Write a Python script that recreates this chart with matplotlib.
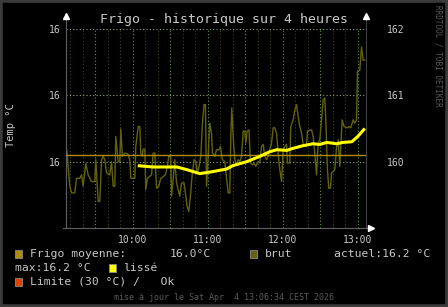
#!/usr/bin/env python3
"""Frigo temperature history, rrdtool look."""
import matplotlib
matplotlib.use("Agg")
import matplotlib.pyplot as plt
from matplotlib.patches import Rectangle

# raw samples: minutes after 09:00, temperature (°C)
brut_min = [7.0, 7.5, 9.6, 11.0, 13.6, 15.0, 17.6, 19.0, 20.3, 22.4, 24.3, 27.0, 29.6, 30.4,
            32.3, 33.6, 35.0, 36.3, 37.6, 39.0, 41.6, 43.0, 44.3, 45.6, 46.4, 48.3, 49.6,
            50.4, 51.7, 53.6, 56.3, 57.6, 58.4, 61.6, 62.4, 64.3, 65.6, 66.4, 67.5, 68.3,
            69.6, 70.4, 71.7, 75.0, 76.3, 77.6, 78.4, 79.0, 80.8, 82.4, 86.1, 87.7, 88.8,
            90.4, 91.0, 92.3, 93.6, 95.0, 96.3, 97.6, 99.0, 101.0, 102.1, 103.4, 104.8,
            106.1, 107.4, 109.0, 110.4, 111.7, 113.0, 114.4, 115.7, 117.0, 118.1, 119.0,
            120.3, 121.6, 123.0, 123.7, 125.6, 127.0, 129.0, 130.1, 131.7, 133.6, 135.0,
            136.3, 137.6, 138.4, 139.2, 140.3, 141.6, 143.0, 144.3, 145.6, 147.0, 148.3,
            149.6, 150.4, 151.5, 153.0, 154.1, 155.7, 156.8, 158.4, 160.3, 161.6, 163.0,
            164.3, 165.6, 167.0, 168.3, 171.0, 172.3, 173.6, 175.0, 176.3, 177.6, 179.0,
            180.3, 181.6, 183.0, 183.7, 185.6, 186.4, 188.3, 189.6, 191.0, 192.3, 193.6,
            195.0, 196.3, 199.0, 199.7, 203.0, 204.3, 205.6, 207.0, 208.3, 209.6, 211.0,
            212.3, 213.6, 214.4, 215.7, 216.8, 218.1, 219.0, 220.3, 221.6, 223.0, 224.3,
            225.6, 226.4, 227.5, 229.0, 231.8, 233.0, 234.4, 236.3, 237.6, 239.0, 239.7,
            241.6, 243.0, 244.3, 245.6]
brut_temp = [16.019, 16.011, 15.963, 15.953, 15.953, 15.975, 15.975, 15.980, 15.963, 15.997,
             15.980, 15.970, 15.970, 16.003, 15.940, 15.940, 16.003, 16.008, 16.003, 15.983,
             15.980, 16.000, 15.963, 15.963, 16.038, 16.000, 16.000, 16.049, 16.008, 16.013,
             16.011, 16.003, 15.975, 15.975, 16.023, 16.053, 16.053, 16.013, 16.008, 16.019,
             16.019, 15.958, 15.975, 15.980, 16.013, 16.013, 15.983, 15.960, 15.963, 15.975,
             15.980, 15.993, 16.008, 16.008, 15.948, 15.973, 16.003, 15.968, 15.958, 15.948,
             15.968, 15.968, 15.953, 15.933, 15.925, 15.948, 15.978, 16.003, 16.000, 15.983,
             15.993, 16.008, 16.058, 16.086, 16.086, 15.963, 16.008, 16.058, 16.043, 16.013,
             16.008, 16.018, 16.018, 16.023, 16.003, 16.000, 15.975, 15.953, 15.953, 16.038,
             16.081, 16.038, 16.003, 15.995, 16.003, 16.000, 16.008, 16.046, 16.046, 16.028,
             16.046, 16.048, 15.998, 15.995, 15.998, 15.993, 16.000, 15.998, 16.023, 16.026,
             16.008, 16.003, 16.008, 16.028, 16.051, 16.051, 16.043, 16.013, 15.988, 15.970,
             16.018, 16.023, 16.026, 15.998, 15.998, 16.053, 16.063, 16.078, 16.086, 16.068,
             16.053, 16.043, 16.026, 16.023, 16.046, 16.048, 16.038, 16.013, 15.980, 16.028,
             16.033, 16.063, 16.093, 16.096, 16.063, 15.988, 15.960, 15.960, 15.983, 15.985,
             15.988, 16.021, 16.033, 15.993, 16.023, 16.063, 16.053, 16.051, 16.053, 16.051,
             16.063, 16.058, 16.063, 16.136, 16.138, 16.173, 16.153, 16.153]

# smoothed series
lisse_min = [64.0, 76.0, 87.2, 95.2, 103.2, 113.6, 124.0, 135.2, 140.0, 151.2, 161.6, 169.6,
             175.2, 183.2, 188.0, 196.0, 204.0, 209.6, 215.2, 223.2, 228.0, 235.2, 240.0, 245.6]
lisse_temp = [15.994, 15.992, 15.992, 15.992, 15.988, 15.982, 15.985, 15.989, 15.994, 16.000,
              16.008, 16.015, 16.018, 16.017, 16.020, 16.024, 16.027, 16.026, 16.029, 16.027,
              16.029, 16.030, 16.038, 16.050]

moyenne = 16.010
start_h = 9 + 6.57 / 60
end_h = start_h + 4
hour_ticks = [10, 11, 12, 13]
hour_labels = ["10:00", "11:00", "12:00", "13:00"]
temp_ticks = [16.0, 16.1, 16.2]

C_BG = "#000000"
C_TXT = "#c8c8c8"
C_BRUT = "#62620e"
C_MOY = "#b08a00"
C_LISSE = "#ffff00"
C_LIM = "#e04000"
MONO = "DejaVu Sans Mono"

W, H = 448, 307
fig = plt.figure(figsize=(W / 100, H / 100), dpi=100, facecolor=C_BG)

# frame around picture
fig.patches.append(Rectangle((0, 0), 1, 1, transform=fig.transFigure, fill=False,
                             edgecolor="#3a3a3a", linewidth=4))

x0, x1, ytop, ybot = 66, 366, 29, 228
ax = fig.add_axes([x0 / W, 1 - ybot / H, (x1 - x0) / W, (ybot - ytop) / H])
ax.set_facecolor(C_BG)
ax.set_xlim(start_h, end_h)
ax.set_ylim(15.9, 16.2)
for s in ax.spines.values():
    s.set_visible(False)

# grid
for i in range(1, 25):
    h = 9 + i * 10 / 60
    if h > end_h:
        break
    major = i % 3 == 0
    ax.axvline(h, color="#5f9a4e" if major else "#3a4a18", lw=0.8,
               ls=(0, (1, 2)), zorder=1)
for t in temp_ticks:
    ax.axhline(t, color="#8aa07a", lw=0.8, ls=(0, (1, 2)), zorder=1)

brut_h = [9 + m / 60 for m in brut_min]
lisse_h = [9 + m / 60 for m in lisse_min]
ax.plot(brut_h, brut_temp, color=C_BRUT, lw=1.0, zorder=2)
ax.axhline(moyenne, color=C_MOY, lw=1.0, zorder=3)
ax.plot(lisse_h, lisse_temp, color=C_LISSE, lw=2.2, zorder=4, solid_capstyle="butt")

# axes lines and arrows (rrdtool style)
ax.plot([start_h, start_h], [15.9, 16.22], color="#606060", lw=0.8, clip_on=False)
ax.plot([end_h, end_h], [15.9, 16.22], color="#404040", lw=0.8, clip_on=False)
ax.plot([start_h - 0.04, end_h + 0.05], [15.9, 15.9], color="#606060", lw=0.8, clip_on=False)
ax.plot([start_h], [16.22], marker="^", color="white", ms=4, clip_on=False)
ax.plot([end_h], [16.22], marker="^", color="white", ms=4, clip_on=False)
ax.plot([end_h + 0.06], [15.9], marker=">", color="white", ms=4, clip_on=False)

ax.set_xticks(hour_ticks)
ax.set_xticklabels(hour_labels)
ax.set_yticks(temp_ticks)
ax.set_yticklabels([f"{t:.0f}" for t in temp_ticks])
ax.tick_params(axis="both", colors=C_TXT, labelsize=7, length=0, pad=4)
ax.tick_params(axis="x", pad=5)
for lab in ax.get_xticklabels() + ax.get_yticklabels():
    lab.set_family(MONO)

ax2 = ax.twinx()
ax2.set_ylim(159, 162)
ax2.set_yticks([160, 161, 162])
ax2.set_yticklabels(["160", "161", "162"])
ax2.tick_params(axis="y", colors=C_TXT, labelsize=7, length=0, pad=15)
for s in ax2.spines.values():
    s.set_visible(False)
for lab in ax2.get_yticklabels():
    lab.set_family(MONO)

fig.text(224 / W, 1 - 19 / H, "Frigo - historique sur 4 heures", ha="center", va="center",
         color=C_TXT, fontsize=9.5, family=MONO)
fig.text(11 / W, 1 - 125 / H, "Temp °C", rotation=90, ha="center", va="center",
         color=C_TXT, fontsize=7.5, family=MONO)
fig.text(438 / W, 1 - 5 / H, "RRDTOOL / TOBI OETIKER", rotation=270, ha="center", va="top",
         color="#5a5a5a", fontsize=5.5, family=MONO)


def swatch(x, y, color):
    fig.patches.append(Rectangle((x / W, 1 - (y + 4) / H), 7 / W, 8 / H,
                                 transform=fig.transFigure, facecolor=color,
                                 edgecolor="#8a8a8a", linewidth=0.6))


def label(x, y, s, **kw):
    fig.text(x / W, 1 - y / H, s, ha="left", va="center", color=C_TXT,
             fontsize=8.2, family=MONO, **kw)


swatch(15, 254, C_MOY)
label(30, 254, "Frigo moyenne:")
label(170, 254, "16.0°C")
swatch(250, 254, C_BRUT)
label(265, 254, "brut")
label(334, 254, "actuel:16.2 °C")
label(15, 268, "max:16.2 °C")
swatch(109, 268, C_LISSE)
label(123, 268, "lissé")
swatch(15, 282, C_LIM)
label(30, 282, "Limite (30 °C) /   Ok")
fig.text(224 / W, 1 - 297 / H, "mise à jour le Sat Apr  4 13:06:34 CEST 2026", ha="center",
         va="center", color="#5a5a5a", fontsize=6, family=MONO)

fig.savefig("out.png", dpi=100, facecolor=C_BG)
